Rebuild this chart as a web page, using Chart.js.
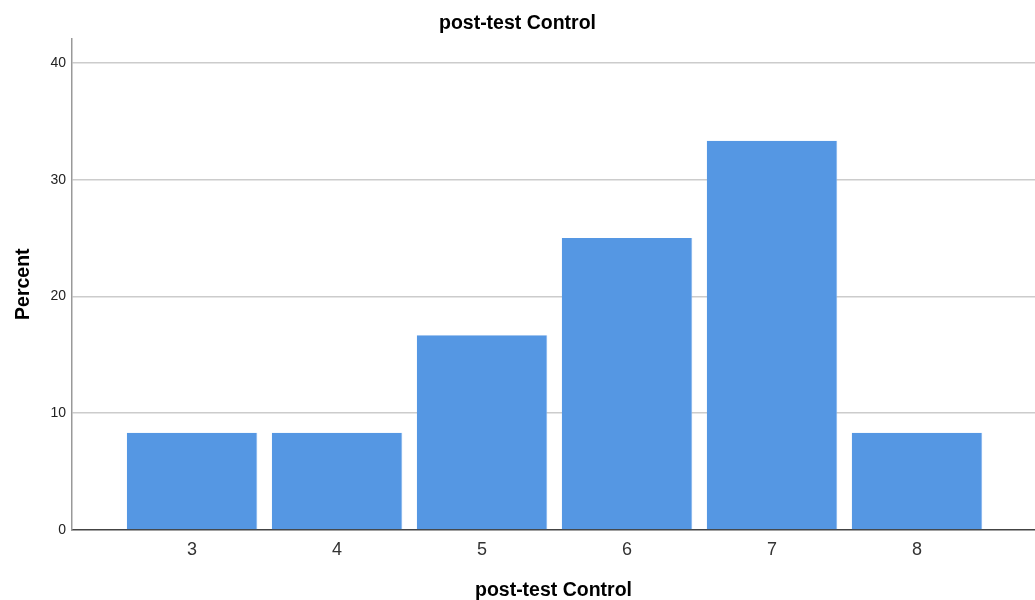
<!DOCTYPE html>
<html>
<head>
<meta charset="utf-8">
<script src="https://cdn.jsdelivr.net/npm/chart.js@4.4.0/dist/chart.umd.min.js"></script>
<style>
  html, body { margin: 0; padding: 0; background: #fff; }
  #wrap { width: 1035px; height: 600px; }
</style>
</head>
<body>
<div id="wrap"><canvas id="histChart"></canvas></div>
<script>
const categories = [3, 4, 5, 6, 7, 8];
const percent = [8.33, 8.33, 16.67, 25, 33.33, 8.33];
const yTicks = [0, 10, 20, 30, 40];

document.addEventListener("DOMContentLoaded", function () {
    const canvas = document.getElementById("histChart");
    if (!canvas) return;
    const ctx = canvas.getContext("2d");

    Chart.defaults.font.family = "'Liberation Sans', Arial, sans-serif";

    new Chart(ctx, {
        type: "bar",
        data: {
            datasets: [{
                label: "Percent",
                data: categories.map((c, i) => ({ x: c, y: percent[i] })),
                backgroundColor: "#5597e3",
                borderColor: "#7fb0ec",
                borderWidth: { right: 1 },
                categoryPercentage: 1,
                barPercentage: 0.9
            }]
        },
        options: {
            responsive: true,
            maintainAspectRatio: false,
            animation: false,
            layout: { padding: 0 },
            plugins: {
                legend: { display: false },
                tooltip: { enabled: false },
                title: {
                    display: true,
                    text: "post-test Control",
                    color: "#000",
                    font: { size: 19.5, weight: "bold" },
                    padding: { top: 12, bottom: 3 }
                }
            },
            scales: {
                x: {
                    type: "linear",
                    offset: false,
                    min: 2.172,
                    max: 8.814,
                    afterBuildTicks: function (axis) {
                        axis.ticks = categories.map(v => ({ value: v }));
                    },
                    afterFit: function (axis) { axis.height = 70; },
                    ticks: {
                        color: "#333",
                        font: { size: 18 },
                        padding: 9,
                        maxRotation: 0
                    },
                    grid: { display: false, drawTicks: false },
                    border: { display: true, color: "#444", width: 1.5 },
                    title: {
                        display: true,
                        text: "post-test Control",
                        color: "#000",
                        font: { size: 19.5, weight: "bold", lineHeight: 1 },
                        padding: { top: 0, bottom: 0 }
                    }
                },
                y: {
                    min: 0,
                    max: 42.1,
                    afterBuildTicks: function (axis) {
                        axis.ticks = yTicks.map(v => ({ value: v }));
                    },
                    afterFit: function (axis) { axis.width = 72; },
                    ticks: {
                        color: "#222",
                        font: { size: 14 },
                        padding: 6
                    },
                    grid: {
                        color: function (c) { return c.tick && c.tick.value === 0 ? "rgba(0,0,0,0)" : "#cccccc"; },
                        lineWidth: 1.5,
                        drawTicks: false
                    },
                    border: { display: true, color: "#999", width: 1.5 },
                    title: {
                        display: true,
                        text: "Percent",
                        color: "#000",
                        font: { size: 19.5, weight: "bold" },
                        padding: { top: 12, bottom: 0 }
                    }
                }
            }
        }
    });
});
</script>
</body>
</html>
